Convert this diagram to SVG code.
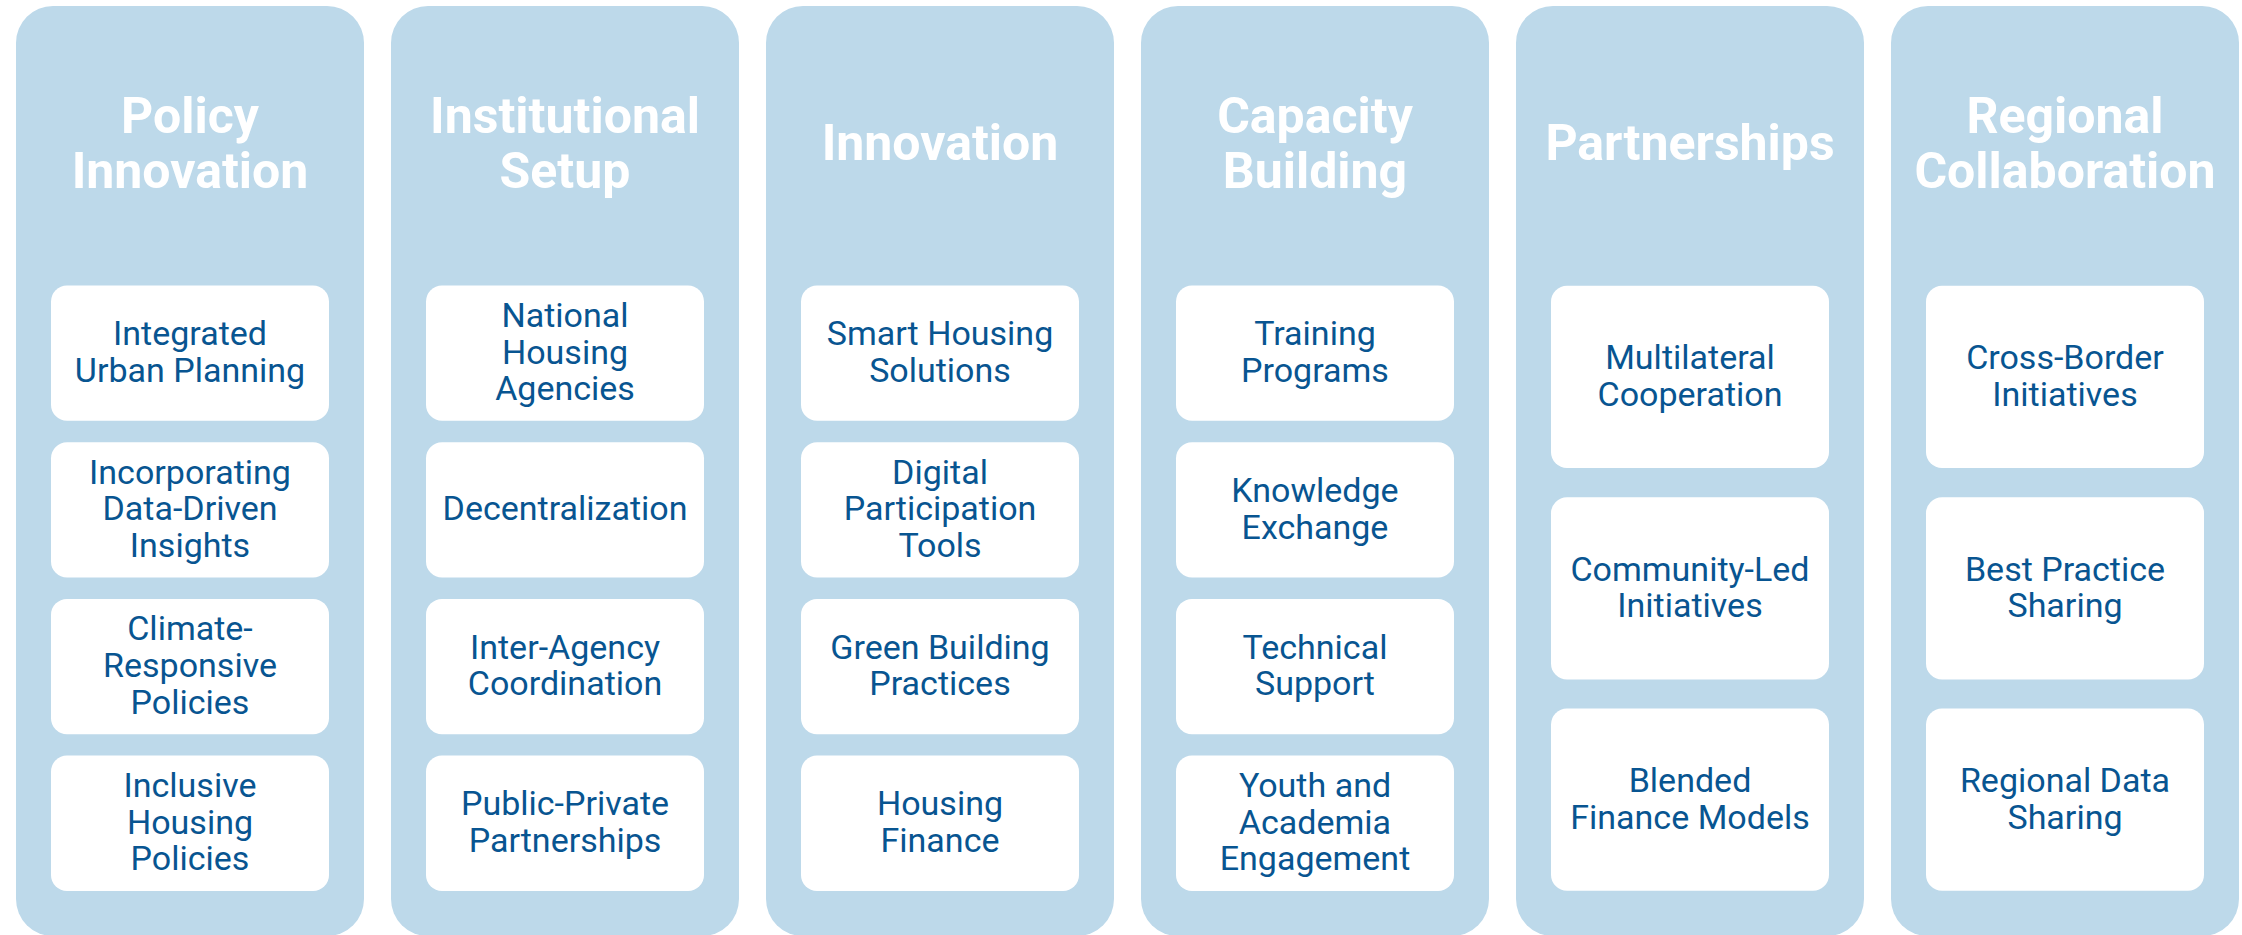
<svg xmlns="http://www.w3.org/2000/svg" width="2242" height="935" viewBox="0 0 2242 935">
<style>
.col{fill:#BDD9EA}
.box{fill:#FFFFFF}
.title{font-family:Roboto,"Liberation Sans",sans-serif;font-weight:700;font-size:50px;fill:#FFFFFF;text-anchor:middle}
.lbl{font-family:Roboto,"Liberation Sans",sans-serif;font-weight:400;font-size:34px;fill:#085591;text-anchor:middle}
</style>
<rect width="2242" height="935" fill="#FFFFFF"/>
<g id="connectors"></g>

<g id="col-policy-innovation">
<rect class="col" x="16" y="6" width="348" height="930" rx="37"/>
<text class="title"><tspan x="190" y="132.7">Policy</tspan><tspan x="190" y="187.7">Innovation</tspan></text>
<g id="n-integrated-urban-planning"><rect class="box" x="51" y="285.5" width="278" height="135.3" rx="16"/>
<text class="lbl"><tspan x="190" y="345.3">Integrated</tspan><tspan x="190" y="382">Urban Planning</tspan></text></g>
<g id="n-data-driven"><rect class="box" x="51" y="442.2" width="278" height="135.3" rx="16"/>
<text class="lbl"><tspan x="190" y="483.65">Incorporating</tspan><tspan x="190" y="520.35">Data-Driven</tspan><tspan x="190" y="557.05">Insights</tspan></text></g>
<g id="n-climate-responsive"><rect class="box" x="51" y="598.9" width="278" height="135.3" rx="16"/>
<text class="lbl"><tspan x="190" y="640.35">Climate-</tspan><tspan x="190" y="677.05">Responsive</tspan><tspan x="190" y="713.75">Policies</tspan></text></g>
<g id="n-inclusive-housing"><rect class="box" x="51" y="755.6" width="278" height="135.3" rx="16"/>
<text class="lbl"><tspan x="190" y="797.05">Inclusive</tspan><tspan x="190" y="833.75">Housing</tspan><tspan x="190" y="870.45">Policies</tspan></text></g>
</g>

<g id="col-institutional-setup">
<rect class="col" x="391" y="6" width="348" height="930" rx="37"/>
<text class="title"><tspan x="565" y="132.7">Institutional</tspan><tspan x="565" y="187.7">Setup</tspan></text>
<g id="n-national-housing"><rect class="box" x="426" y="285.5" width="278" height="135.3" rx="16"/>
<text class="lbl"><tspan x="565" y="326.95">National</tspan><tspan x="565" y="363.65">Housing</tspan><tspan x="565" y="400.35">Agencies</tspan></text></g>
<g id="n-decentralization"><rect class="box" x="426" y="442.2" width="278" height="135.3" rx="16"/>
<text class="lbl"><tspan x="565" y="520.35">Decentralization</tspan></text></g>
<g id="n-inter-agency"><rect class="box" x="426" y="598.9" width="278" height="135.3" rx="16"/>
<text class="lbl"><tspan x="565" y="658.7">Inter-Agency</tspan><tspan x="565" y="695.4">Coordination</tspan></text></g>
<g id="n-ppp"><rect class="box" x="426" y="755.6" width="278" height="135.3" rx="16"/>
<text class="lbl"><tspan x="565" y="815.4">Public-Private</tspan><tspan x="565" y="852.1">Partnerships</tspan></text></g>
</g>

<g id="col-innovation">
<rect class="col" x="766" y="6" width="348" height="930" rx="37"/>
<text class="title"><tspan x="940" y="160.2">Innovation</tspan></text>
<g id="n-smart-housing"><rect class="box" x="801" y="285.5" width="278" height="135.3" rx="16"/>
<text class="lbl"><tspan x="940" y="345.3">Smart Housing</tspan><tspan x="940" y="382">Solutions</tspan></text></g>
<g id="n-digital-participation"><rect class="box" x="801" y="442.2" width="278" height="135.3" rx="16"/>
<text class="lbl"><tspan x="940" y="483.65">Digital</tspan><tspan x="940" y="520.35">Participation</tspan><tspan x="940" y="557.05">Tools</tspan></text></g>
<g id="n-green-building"><rect class="box" x="801" y="598.9" width="278" height="135.3" rx="16"/>
<text class="lbl"><tspan x="940" y="658.7">Green Building</tspan><tspan x="940" y="695.4">Practices</tspan></text></g>
<g id="n-housing-finance"><rect class="box" x="801" y="755.6" width="278" height="135.3" rx="16"/>
<text class="lbl"><tspan x="940" y="815.4">Housing</tspan><tspan x="940" y="852.1">Finance</tspan></text></g>
</g>

<g id="col-capacity-building">
<rect class="col" x="1141" y="6" width="348" height="930" rx="37"/>
<text class="title"><tspan x="1315" y="132.7">Capacity</tspan><tspan x="1315" y="187.7">Building</tspan></text>
<g id="n-training"><rect class="box" x="1176" y="285.5" width="278" height="135.3" rx="16"/>
<text class="lbl"><tspan x="1315" y="345.3">Training</tspan><tspan x="1315" y="382">Programs</tspan></text></g>
<g id="n-knowledge"><rect class="box" x="1176" y="442.2" width="278" height="135.3" rx="16"/>
<text class="lbl"><tspan x="1315" y="502">Knowledge</tspan><tspan x="1315" y="538.7">Exchange</tspan></text></g>
<g id="n-technical"><rect class="box" x="1176" y="598.9" width="278" height="135.3" rx="16"/>
<text class="lbl"><tspan x="1315" y="658.7">Technical</tspan><tspan x="1315" y="695.4">Support</tspan></text></g>
<g id="n-youth"><rect class="box" x="1176" y="755.6" width="278" height="135.3" rx="16"/>
<text class="lbl"><tspan x="1315" y="797.05">Youth and</tspan><tspan x="1315" y="833.75">Academia</tspan><tspan x="1315" y="870.45">Engagement</tspan></text></g>
</g>

<g id="col-partnerships">
<rect class="col" x="1516" y="6" width="348" height="930" rx="37"/>
<text class="title"><tspan x="1690" y="160.2">Partnerships</tspan></text>
<g id="n-multilateral"><rect class="box" x="1551" y="285.7" width="278" height="182.3" rx="16"/>
<text class="lbl"><tspan x="1690" y="369">Multilateral</tspan><tspan x="1690" y="405.7">Cooperation</tspan></text></g>
<g id="n-community-led"><rect class="box" x="1551" y="497.2" width="278" height="182.3" rx="16"/>
<text class="lbl"><tspan x="1690" y="580.5">Community-Led</tspan><tspan x="1690" y="617.2">Initiatives</tspan></text></g>
<g id="n-blended-finance"><rect class="box" x="1551" y="708.5" width="278" height="182.3" rx="16"/>
<text class="lbl"><tspan x="1690" y="791.8">Blended</tspan><tspan x="1690" y="828.5">Finance Models</tspan></text></g>
</g>

<g id="col-regional-collaboration">
<rect class="col" x="1891" y="6" width="348" height="930" rx="37"/>
<text class="title"><tspan x="2065" y="132.7">Regional</tspan><tspan x="2065" y="187.7">Collaboration</tspan></text>
<g id="n-cross-border"><rect class="box" x="1926" y="285.7" width="278" height="182.3" rx="16"/>
<text class="lbl"><tspan x="2065" y="369">Cross-Border</tspan><tspan x="2065" y="405.7">Initiatives</tspan></text></g>
<g id="n-best-practice"><rect class="box" x="1926" y="497.2" width="278" height="182.3" rx="16"/>
<text class="lbl"><tspan x="2065" y="580.5">Best Practice</tspan><tspan x="2065" y="617.2">Sharing</tspan></text></g>
<g id="n-regional-data"><rect class="box" x="1926" y="708.5" width="278" height="182.3" rx="16"/>
<text class="lbl"><tspan x="2065" y="791.8">Regional Data</tspan><tspan x="2065" y="828.5">Sharing</tspan></text></g>
</g>
</svg>
